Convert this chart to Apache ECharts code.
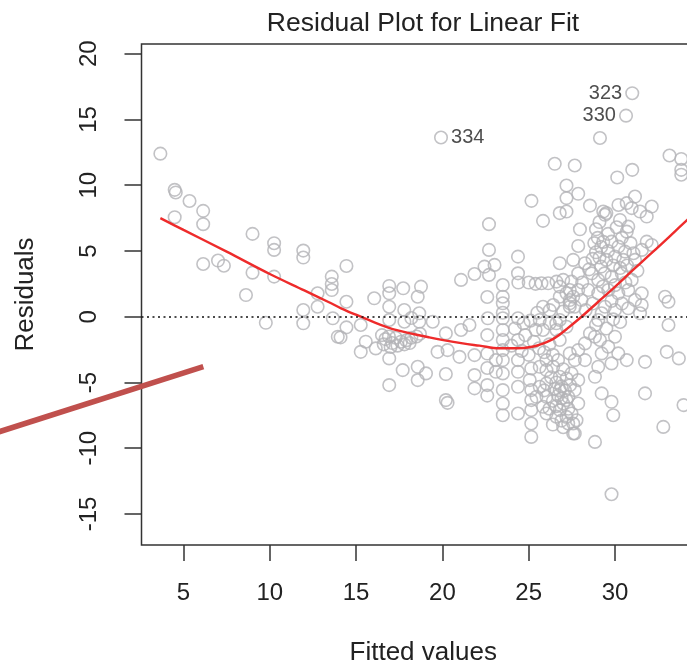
<!DOCTYPE html>
<html><head><meta charset="utf-8">
<script src="https://cdn.jsdelivr.net/npm/echarts@6/dist/echarts.min.js"></script>
<style>html,body{margin:0;padding:0;background:#fff}#c{width:687px;height:664px}</style>
</head><body><div id="c"></div>
<script>
const titleText = 'Residual Plot for Linear Fit';
const xName = 'Fitted values';
const yName = 'Residuals';
const xTicks = [5, 10, 15, 20, 25, 30];
const yTicks = [-15, -10, -5, 0, 5, 10, 15, 20];

// [fitted value, residual]
const points = [
[3.66,12.4],[4.49,9.65],[4.55,9.45],[5.35,8.8],[6.14,8.05],[4.49,7.57],[6.14,7.04],[9.0,6.3],[10.25,5.59],[10.25,5.08],[11.94,5.03],[11.94,4.5],[6.14,4.01],[7.0,4.27],[7.34,3.88],[9.0,3.35],[10.25,3.05],[8.62,1.65],[9.77,-0.46],[11.94,0.51],[11.94,-0.5],[12.77,1.78],[12.77,0.76],[13.59,3.05],[13.59,2.49],[13.59,2.03],[13.65,-0.12],[13.94,-1.52],[14.44,3.86],
[14.44,1.14],[14.44,-0.81],[14.1,-1.57],[15.27,-0.63],[16.05,1.4],[16.92,2.34],[16.92,1.78],[17.73,2.16],[18.76,2.29],[18.57,1.52],[16.92,0.76],[17.79,0.51],[18.66,0.26],[16.92,-0.25],[18.66,-0.38],[19.44,-0.38],[15.56,-1.9],[15.27,-2.67],[16.14,-2.41],
[16.5,-1.4],[16.7,-1.7],[16.9,-1.5],[17.1,-2.0],[17.3,-1.6],[17.6,-1.9],[17.9,-1.8],[18.2,-1.6],[18.5,-1.5],[18.7,-1.3],[16.6,-2.1],[17.0,-2.3],[17.4,-2.2],[17.8,-2.1],[18.1,-2.0],[18.2,-0.1],[17.8,-0.38],
[16.92,-3.17],[17.7,-4.06],[18.57,-3.81],[19.05,-4.31],[18.57,-4.82],[16.92,-5.2],[20.2,-1.27],[19.72,-2.67],[20.3,-2.54],[21.08,-1.01],[21.57,-0.63],[20.99,-3.05],[20.2,-4.36],[21.86,-2.92],[21.86,-4.44],[21.86,-5.45],[20.2,-6.34],[20.3,-6.55],[21.08,2.8],[21.86,3.25],
[22.7,7.04],[22.7,5.08],[22.44,3.81],[23.02,3.94],[22.7,3.18],[24.38,4.57],[24.38,3.3],[23.5,2.41],[23.5,1.52],[23.5,1.02],[25.16,8.81],[25.83,7.29],[26.51,11.63],[26.8,4.07],
[25.74,2.54],[26.13,2.54],[26.61,2.67],[27.0,2.8],[26.8,2.29],[25.83,0.76],[26.42,0.89],[26.8,1.52],[27.19,1.78],[27.58,1.52],[27.38,0.76],
[23.5,0.3],[22.63,-0.12],[23.5,-0.12],[24.38,-0.12],[26.22,0.5],[26.99,0.4],[27.38,1.02],[25.64,-0.25],[26.22,-0.5],[26.8,-0.25],[25.83,-1.01],[26.61,-1.01],[27.19,-0.76],
[23.5,-1.01],[23.5,-1.77],[23.5,-2.54],[23.5,-3.3],[23.1,-3.3],[23.1,-4.19],[23.5,-4.31],[23.5,-5.58],[23.5,-6.6],[23.5,-7.49],[24.38,-7.36],[24.38,-5.33],[24.38,-4.19],[24.38,-3.3],[24.38,-1.77],[25.15,-6.34],[25.15,-7.1],[25.15,-8.12],[25.15,-9.14],[25.06,-4.82],[25.64,-5.33],[25.45,-6.09],[25.83,-6.85],[26.03,-3.3],[26.03,-4.06],[25.64,-3.81],[26.42,-3.81],[26.8,-4.57],[26.8,-5.58],[27.19,-6.34],[26.8,-7.1],[27.19,-7.62],[27.58,-8.12],[27.58,-8.88],
[25.15,-3.93],[25.15,-5.58],[26.03,-5.07],[26.03,-6.09],[26.03,-7.36],
[26.6,-5.0],[26.9,-5.3],[27.1,-5.6],[26.7,-6.0],[27.0,-6.6],[26.6,-6.8],[27.3,-7.0],[26.9,-7.9],[27.0,-8.4],[26.4,-6.4],[26.5,-5.5],
[26.8,-1.77],[26.6,-0.5],[27.38,1.27],
[24.0,-2.2],[24.6,-2.6],[25.0,-2.9],[25.3,-1.9],[25.6,-2.4],[25.9,-2.7],[26.2,-2.1],[26.4,-2.9],[24.8,-1.4],[25.4,-1.0],[24.7,-0.5],[25.1,-0.3],[25.5,0.3],[24.2,-0.9],
[24.4,2.6],[25.0,2.6],[25.4,2.5],
[22.6,1.5],[22.6,-1.4],[22.6,-2.8],[22.6,-3.9],[22.6,-5.2],[22.6,-6.0],
[26.3,-4.6],[26.7,-3.3],[27.0,-4.0],[26.2,-7.0],[26.6,-7.6],[27.4,-5.2],[27.2,-4.7],[25.9,-5.6],[26.4,-8.2],[26.9,-6.2],
[27.67,11.5],[27.19,9.98],[27.87,9.35],[27.19,9.02],[26.8,7.88],[27.19,8.0],[28.55,8.45],[29.32,8.0],[29.5,7.88],[30.13,10.59],[31.0,11.17],[33.16,12.26],[33.84,12.0],[33.84,11.17],[33.84,10.8],[27.97,6.65],[28.9,6.65],[29.32,5.69],
[30.2,8.5],[30.68,8.64],[31.16,9.14],[30.97,8.26],[31.45,8.0],[32.13,8.38],[31.84,7.62],[30.29,7.36],[30.77,6.85],[30.68,6.47],[29.42,7.75],
[27.87,5.38],[27.58,4.32],[28.26,4.07],[27.87,3.3],[27.48,2.67],
[29.8,5.71],[30.2,5.33],[30.58,4.95],[31.07,4.83],[31.56,5.08],[31.84,5.71],[32.13,5.46],[31.16,4.32],[30.48,4.32],[30.0,4.57],[29.5,4.32],[29.2,3.81],
[28.65,3.3],[29.03,2.8],[29.81,3.05],[30.39,3.3],[30.97,2.8],[30.77,2.03],[31.55,1.78],[31.16,1.27],[30.19,1.78],[29.61,2.03],[29.03,1.78],[28.45,2.03],[27.87,2.03],[28.06,1.27],[27.67,0.76],[27.38,2.03],
[32.9,1.52],[33.1,1.14],[31.55,0.89],[31.45,0.26],[29.23,0.26],[29.42,0.76],[30.0,0.51],[30.77,0.64],[29.03,-0.25],[33.1,-0.63],
[28.55,-1.27],[28.84,-1.52],[29.13,-1.77],[30.0,-1.52],[29.61,-2.28],[29.23,-2.79],[30.19,-2.79],[30.68,-3.3],[28.26,-2.03],[27.87,-2.54],[27.67,-3.3],[27.38,-2.79],[28.26,-3.3],[29.03,-3.81],[29.8,-3.55],[31.74,-3.43],[33.0,-2.67],[33.7,-3.17],
[27.48,-4.31],[27.87,-4.82],[27.67,-5.58],[27.29,-6.09],[27.87,-6.6],[27.48,-7.36],[27.77,-7.87],[27.29,-8.12],[27.67,-8.88],
[28.84,-4.57],[29.23,-5.83],[29.8,-6.47],[29.9,-7.49],[28.84,-9.52],[31.74,-5.83],[32.8,-8.38],[33.97,-6.72],[29.8,-13.5],
[29.13,13.59],
[28.9,4.9],[29.1,4.5],[29.6,5.0],[29.9,3.9],[30.3,3.7],[30.7,3.9],[31.3,3.5],[29.4,3.3],[28.7,4.4],[29.2,5.3],[30.9,5.6],[29.0,6.0],[29.6,6.3],[30.4,6.0],
[28.3,0.5],[28.7,1.0],[29.8,1.2],[30.4,1.0],[28.9,-0.6],[29.5,-0.9],[30.3,-0.4],[29.9,-0.2],
[28.1,2.6],[28.5,3.6],[29.3,2.3],[30.0,2.4],[30.6,2.6],[28.8,5.6],[30.1,6.8],[29.1,7.2]
];

// labelled observations: [fitted, residual, id, label side]
const outliers = [[19.92,13.63,'334','right'],[30.64,15.29,'330','left'],[31.0,17.0,'323','left']];

// smooth fit to the residuals
const loessFit = [[3.66,7.5],[5,6.6],[7.5,4.95],[10,3.25],[12,2.0],[13.43,1.1],[14.13,0.64],[15.27,0],[16.2,-0.5],[17.3,-1.0],[19.24,-1.57],[21.18,-2.03],[22.15,-2.2],[23.3,-2.4],[24.3,-2.4],[25.2,-2.28],[25.9,-2.0],[26.4,-1.7],[26.8,-1.35],[27.19,-0.95],[28.06,0],[29.0,1.1],[29.9,2.16],[31,3.5],[32,4.7],[33,5.9],[34.19,7.36],[34.6,7.8]];

// decorative annotation stroke (data coordinates of its ends)
const annotationSegment = [[-5.8,-8.8],[6.15,-3.8]];

const font = "'Liberation Sans', Arial, sans-serif";
const textColor = '#222';

const chart = echarts.init(document.getElementById('c'), null, {renderer:'canvas'});
const option = {
  animation: false,
  backgroundColor: '#fff',
  title: {
    text: titleText, left: 418, top: 5, textAlign: 'center',
    textStyle: {fontFamily: font, fontSize: 26.5, fontWeight: 'normal', color: textColor}
  },
  grid: {left: 141.5, top: 44, bottom: 119, right: -40, containLabel: false, outerBoundsMode: 'none',
    show: true, borderColor: '#333', borderWidth: 1.5, backgroundColor: 'transparent'},
  xAxis: {
    type: 'value', min: 2.567, max: 36.49,
    name: xName, nameLocation: 'middle', nameGap: 95,
    nameTextStyle: {fontFamily: font, fontSize: 26, color: textColor, padding: [0, 22, 0, 0]},
    axisLine: {show: false, onZero: false},
    axisTick: {show: true, length: 16, customValues: xTicks, lineStyle: {color: '#333', width: 1.5}},
    axisLabel: {customValues: xTicks, margin: 36, fontFamily: font, fontSize: 24, color: textColor},
    splitLine: {show: false}
  },
  yAxis: {
    type: 'value', min: -17.36, max: 20.74,
    name: yName, nameLocation: 'middle', nameGap: 103, nameRotate: 90,
    nameTextStyle: {fontFamily: font, fontSize: 26, color: textColor},
    axisLine: {show: false, onZero: false},
    axisTick: {show: true, length: 17, customValues: yTicks, lineStyle: {color: '#333', width: 1.5}},
    axisLabel: {customValues: yTicks, rotate: 90, margin: 40, fontFamily: font, fontSize: 24, color: textColor},
    splitLine: {show: false}
  },
  series: [
    {
      type: 'scatter', data: points, symbol: 'circle', symbolSize: 12.5,
      itemStyle: {color: 'rgba(0,0,0,0)', borderColor: '#b3b3b6', borderWidth: 1.6},
      markLine: {
        silent: true, symbol: 'none', label: {show: false},
        lineStyle: {type: [2, 3.5], color: '#111', width: 1.5},
        data: [{yAxis: 0}]
      },
      z: 2
    },
    {
      type: 'scatter', symbol: 'circle', symbolSize: 12.5,
      itemStyle: {color: 'rgba(0,0,0,0)', borderColor: '#b3b3b6', borderWidth: 1.6},
      data: outliers.map(o => ({
        value: [o[0], o[1]],
        label: {show: true, formatter: o[2], position: o[3], distance: 3,
          fontFamily: font, fontSize: 20, color: textColor}
      })),
      z: 3
    },
    {
      type: 'line', data: loessFit, smooth: 0.35, showSymbol: false,
      lineStyle: {color: '#ee2b2b', width: 2.4}, z: 4
    }
  ]
};
chart.setOption(option);
const p1 = chart.convertToPixel({gridIndex: 0}, annotationSegment[0]);
const p2 = chart.convertToPixel({gridIndex: 0}, annotationSegment[1]);
chart.setOption({graphic: [{type: 'line', z: 100,
  shape: {x1: p1[0], y1: p1[1], x2: p2[0], y2: p2[1]},
  style: {stroke: '#c0504d', lineWidth: 5.5, lineCap: 'butt'}}]});
</script></body></html>
